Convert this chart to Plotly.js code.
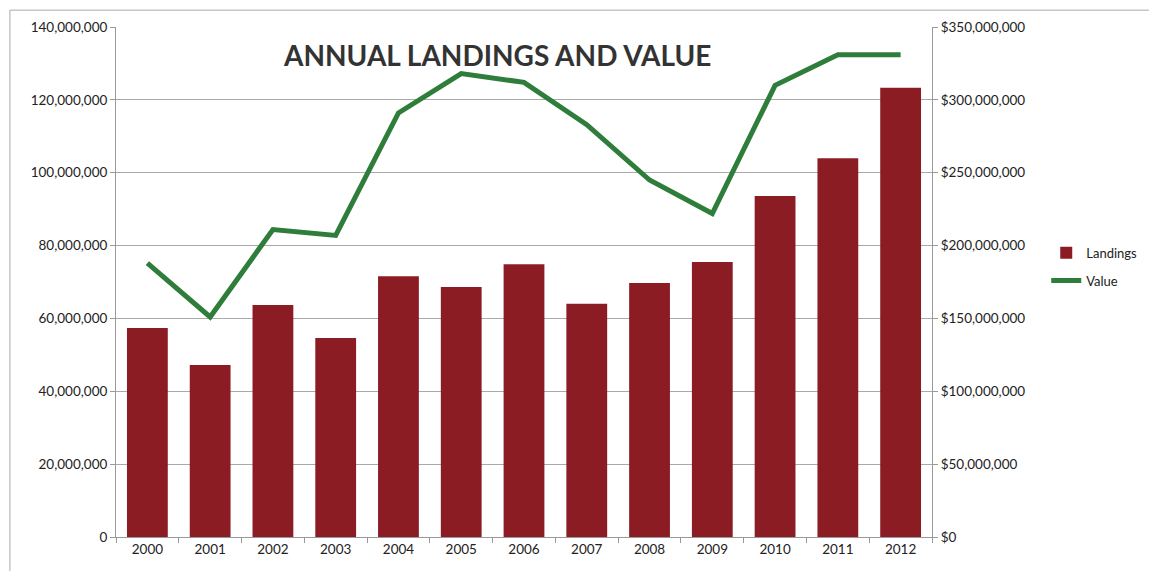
<!DOCTYPE html>
<html>
<head>
<meta charset="utf-8">
<script src="https://cdn.plot.ly/plotly-3.0.1.min.js"></script>
<style>html,body{margin:0;padding:0;background:#fff;overflow:hidden;}#chart{width:1149px;height:571px;}</style>
</head>
<body>
<div id="chart"></div>
<script>
const years = ["2000","2001","2002","2003","2004","2005","2006","2007","2008","2009","2010","2011","2012"];
const landings = [57400000, 47200000, 63700000, 54600000, 71600000, 68600000, 74900000, 64000000, 69700000, 75500000, 93600000, 104000000, 123300000];
const value = [188000000, 151000000, 211000000, 207000000, 291000000, 318000000, 312000000, 283000000, 245000000, 222000000, 310000000, 331000000, 331000000];
const leftTicks = [0, 20000000, 40000000, 60000000, 80000000, 100000000, 120000000, 140000000];
const rightTicks = [0, 50000000, 100000000, 150000000, 200000000, 250000000, 300000000, 350000000];
const titleText = "ANNUAL LANDINGS AND VALUE";

const font = "Lato, 'Open Sans', sans-serif";
const data = [
  {type:"bar", name:"Landings", x:years, y:landings, marker:{color:"#8c1c24"}, yaxis:"y", legendgroup:"a"},
  {type:"scatter", mode:"lines", name:"Value", x:years, y:value, line:{color:"#2e7d3a", width:5}, yaxis:"y2", legendgroup:"b"}
];
const layout = {
  width:1149, height:571,
  margin:{l:116, r:217, t:27, b:34, autoexpand:false},
  paper_bgcolor:"#fff", plot_bgcolor:"#fff",
  bargap:0.35,
  font:{family:font, size:13.5, color:"#222"},
  showlegend:true,
  legend:{x:1.14, y:0.53, xanchor:"left", yanchor:"middle", bgcolor:"rgba(0,0,0,0)", font:{size:13, color:"#222"}, tracegroupgap:8, itemwidth:30},
  xaxis:{type:"category", showgrid:false, showline:true, linecolor:"#999", ticks:"outside", tickson:"boundaries", ticklen:5, tickcolor:"#999", tickfont:{size:13.5}, automargin:false},
  yaxis:{range:[0,140000000], tickvals:leftTicks, tickformat:",.0f", showgrid:true, gridcolor:"#aaa", gridwidth:1, showline:true, linecolor:"#999", ticks:"outside", ticklen:5, tickcolor:"#999", zeroline:false, tickfont:{size:13.5}, automargin:false},
  yaxis2:{range:[0,350000000], tickvals:rightTicks, tickformat:"$,.0f", overlaying:"y", side:"right", showgrid:false, showline:true, linecolor:"#999", ticks:"outside", ticklen:5, tickcolor:"#999", zeroline:false, tickfont:{size:13.5}, automargin:false},
  annotations:[{text:"<b>"+titleText+"</b>", xref:"paper", yref:"paper", x:0.467, y:0.945, xanchor:"center", yanchor:"middle", showarrow:false, font:{family:font, size:28, color:"#333"}}],
  shapes:[
    {type:"line", xref:"paper", yref:"paper", x0:-0.13, x1:1.3, y0:1.033, y1:1.033, line:{color:"#aaa", width:1}, layer:"below"},
    {type:"line", xref:"paper", yref:"paper", x0:-0.13, x1:-0.13, y0:-0.1, y1:1.033, line:{color:"#aaa", width:1}, layer:"below"}
  ]
};
Plotly.newPlot("chart", data, layout, {displayModeBar:false, staticPlot:true});
</script>
</body>
</html>
